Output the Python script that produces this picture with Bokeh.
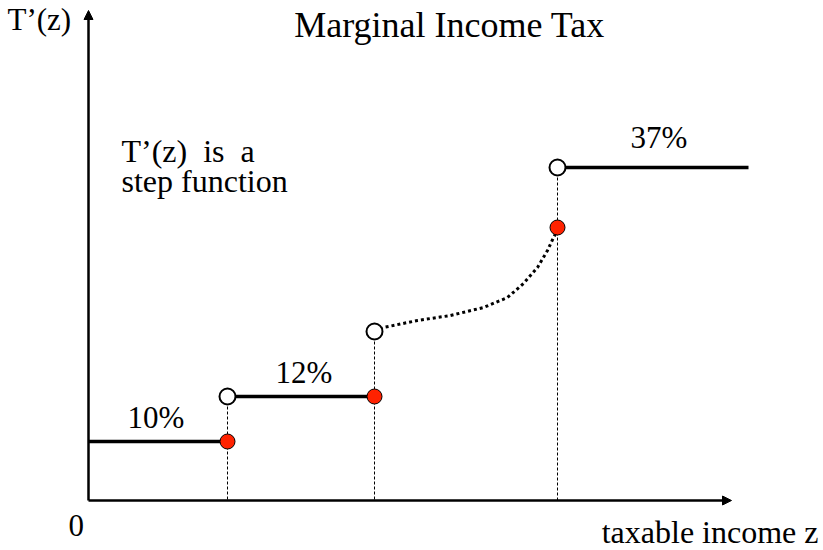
from bokeh.plotting import figure
from bokeh.models import Range1d, Arrow, NormalHead
from bokeh.core.properties import value
from bokeh.embed import file_html
from bokeh.resources import INLINE

# ---- data (chart units: income along x, marginal rate height along y) ----
bracket_start = [0, 139, 469]
bracket_end = [139, 286, 660]
bracket_level = [59, 104, 333]
bracket_labels = ["10%", "12%", "37%"]

open_x = [139, 286, 469]
open_y = [104, 169, 333]
closed_x = [139, 286, 469]
closed_y = [59, 104, 273]

curve_x = [286, 295, 329, 362, 395, 419, 435, 449, 459, 465, 470]
curve_y = [169, 173, 180, 185, 193, 203, 217, 233, 250, 263, 272]

axis_x_end = 643
axis_y_end = 490

FONT = "Liberation Serif"
NB = "\u00a0"

p = figure(width=823, height=550, output_backend="svg", toolbar_location=None,
           x_range=Range1d(-88, 735), y_range=Range1d(-50, 500),
           min_border=0, min_border_left=0, min_border_right=0,
           min_border_top=0, min_border_bottom=0)
p.xaxis.visible = False
p.yaxis.visible = False
p.grid.visible = False
p.outline_line_color = None
p.background_fill_color = "white"
p.border_fill_color = "white"

# dashed drop lines from the open circles to the axis
p.segment(x0=open_x, y0=open_y, x1=open_x, y1=[0] * len(open_x),
          line_color="black", line_width=1, line_dash="3 2")

# axes with arrows
p.add_layout(Arrow(x_start=0, y_start=0, x_end=axis_x_end, y_end=0,
                   line_width=2.5, line_color="black",
                   end=NormalHead(size=9, fill_color="black", line_color="black")))
p.add_layout(Arrow(x_start=0, y_start=0, x_end=0, y_end=axis_y_end,
                   line_width=2.5, line_color="black",
                   end=NormalHead(size=9, fill_color="black", line_color="black")))

# step segments
p.segment(x0=bracket_start, y0=bracket_level, x1=bracket_end, y1=bracket_level,
          line_color="black", line_width=3.5)

# dotted curve
p.line(curve_x, curve_y, line_color="black", line_width=3, line_dash="3 3")

# circles
p.scatter(open_x, open_y, size=16, fill_color="white", line_color="black", line_width=2)
p.scatter(closed_x, closed_y, size=15, fill_color="#ff2200", line_color="black", line_width=1)

# bracket labels
label_x = [39, 187, 542]
label_y = [83, 128, 363]
p.text(label_x, label_y, text=bracket_labels, text_font=value(FONT),
       text_font_size="31px", text_color="black", text_baseline="alphabetic")

# annotations
p.text([33, 33], [350, 320], text=[f"T\u2019(z){NB}{NB}is{NB}{NB}a", "step function"],
       text_font=value(FONT), text_font_size="32px", text_color="black",
       text_baseline="alphabetic")
p.text([-81], [481], text=["T\u2019(z)"], text_font=value(FONT), text_font_size="31px",
       text_color="black", text_baseline="alphabetic")
p.text([361], [476], text=["Marginal Income Tax"], text_font=value(FONT),
       text_font_size="36px", text_color="black", text_baseline="alphabetic",
       text_align="center")
p.text([-20], [-25], text=["0"], text_font=value(FONT), text_font_size="31px",
       text_color="black", text_baseline="alphabetic")
p.text([730], [-31], text=["taxable income z"], text_font=value(FONT),
       text_font_size="32px", text_color="black", text_baseline="alphabetic",
       text_align="right")

open("out.html", "w").write(file_html(p, INLINE))
